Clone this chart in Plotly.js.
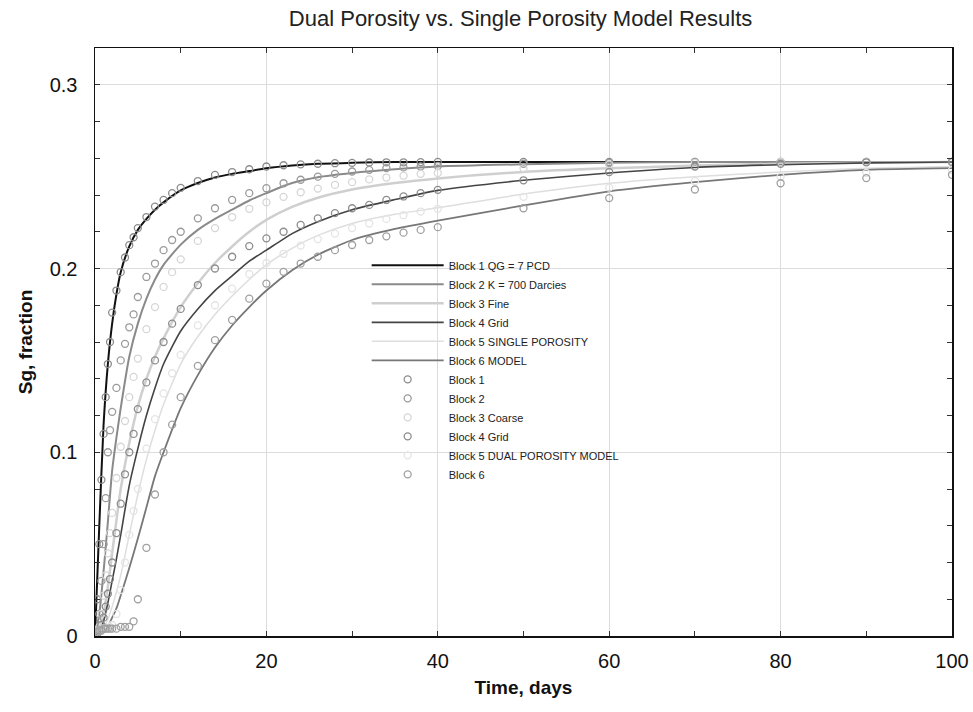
<!DOCTYPE html>
<html>
<head>
<meta charset="utf-8">
<script src="https://cdn.plot.ly/plotly-3.0.1.min.js"></script>
<style>html,body{margin:0;padding:0;background:#fff;}#chart{width:973px;height:712px;}</style>
</head>
<body>
<div id="chart"></div>
<script>
// Time axis for simulated (single porosity) lines, days
const lineT = [0, 0.5, 1, 1.5, 2, 2.5, 3, 4, 5, 6, 7, 8, 10, 12, 14, 16, 18, 20, 23, 26, 30, 35, 40, 50, 60, 70, 80, 90, 100];
const b1Line = [0, 0.06, 0.115, 0.148, 0.17, 0.186, 0.198, 0.212, 0.221, 0.227, 0.232, 0.236, 0.2425, 0.2465, 0.2495, 0.2515, 0.253, 0.2545, 0.256, 0.257, 0.2575, 0.258, 0.258, 0.258, 0.258, 0.258, 0.258, 0.258, 0.258];
const b2Line = [0, 0.012, 0.035, 0.062, 0.09, 0.108, 0.124, 0.152, 0.17, 0.1836, 0.194, 0.202, 0.213, 0.221, 0.227, 0.232, 0.237, 0.241, 0.2465, 0.2497, 0.252, 0.254, 0.2555, 0.2567, 0.2575, 0.258, 0.258, 0.258, 0.258];
const b3Line = [0, 0.004, 0.012, 0.027, 0.045, 0.063, 0.08, 0.105, 0.125, 0.14, 0.152, 0.162, 0.179, 0.192, 0.203, 0.212, 0.22, 0.2265, 0.2335, 0.2385, 0.243, 0.2465, 0.249, 0.2525, 0.2545, 0.256, 0.257, 0.2575, 0.258];
const b4Line = [0, 0.002, 0.008, 0.018, 0.03, 0.042, 0.055, 0.082, 0.102, 0.12, 0.135, 0.148, 0.166, 0.178, 0.188, 0.196, 0.204, 0.21, 0.219, 0.2255, 0.232, 0.2375, 0.2425, 0.248, 0.252, 0.255, 0.2565, 0.2575, 0.258];
const b5Line = [0, 0.001, 0.004, 0.009, 0.016, 0.024, 0.033, 0.055, 0.077, 0.096, 0.112, 0.126, 0.148, 0.163, 0.175, 0.185, 0.194, 0.202, 0.211, 0.218, 0.2245, 0.2295, 0.233, 0.2405, 0.2464, 0.25, 0.2525, 0.2545, 0.2555];
const b6Line = [0, 0.001, 0.002, 0.005, 0.01, 0.015, 0.022, 0.037, 0.053, 0.07, 0.087, 0.1, 0.124, 0.142, 0.157, 0.169, 0.179, 0.188, 0.199, 0.2075, 0.2155, 0.2215, 0.226, 0.2343, 0.242, 0.247, 0.251, 0.2537, 0.2546];

// Time axis for dual porosity model points, days
const ptT = [0, 0.25, 0.5, 0.75, 1, 1.25, 1.5, 1.75, 2, 2.5, 3, 3.5, 4, 4.5, 5, 6, 7, 8, 9, 10, 12, 14, 16, 18, 20, 22, 24, 26, 28, 30, 32, 34, 36, 38, 40, 50, 60, 70, 80, 90, 100];
const b1Pts = [0, 0.02, 0.05, 0.085, 0.11, 0.13, 0.148, 0.16, 0.176, 0.188, 0.198, 0.206, 0.2127, 0.217, 0.222, 0.228, 0.2337, 0.2373, 0.241, 0.2439, 0.2476, 0.2509, 0.2525, 0.254, 0.2555, 0.2562, 0.2567, 0.257, 0.2573, 0.2575, 0.2577, 0.2578, 0.2578, 0.2579, 0.258, 0.258, 0.258, 0.258, 0.258, 0.258, 0.258];
const b2Pts = [0, 0.003, 0.012, 0.03, 0.05, 0.075, 0.1, 0.112, 0.122, 0.135, 0.15, 0.159, 0.168, 0.175, 0.1845, 0.1954, 0.2027, 0.21, 0.2155, 0.22, 0.2273, 0.2328, 0.2373, 0.241, 0.2437, 0.2464, 0.2483, 0.25, 0.2515, 0.2528, 0.2537, 0.2546, 0.255, 0.2555, 0.2558, 0.257, 0.2575, 0.258, 0.258, 0.258, 0.258];
const b3Pts = [0, 0.001, 0.005, 0.012, 0.022, 0.033, 0.045, 0.056, 0.067, 0.086, 0.103, 0.117, 0.13, 0.141, 0.151, 0.167, 0.179, 0.19, 0.198, 0.205, 0.215, 0.222, 0.228, 0.2325, 0.236, 0.239, 0.2415, 0.2435, 0.2455, 0.247, 0.2485, 0.2495, 0.2505, 0.2515, 0.252, 0.2545, 0.2565, 0.2575, 0.258, 0.258, 0.258];
const b4Pts = [0, 0.001, 0.003, 0.006, 0.01, 0.016, 0.023, 0.031, 0.04, 0.056, 0.072, 0.088, 0.1, 0.11, 0.1235, 0.138, 0.15, 0.16, 0.17, 0.178, 0.191, 0.2, 0.2064, 0.2122, 0.2164, 0.22, 0.2237, 0.2273, 0.2301, 0.2328, 0.2346, 0.2373, 0.2392, 0.241, 0.2428, 0.248, 0.2525, 0.2555, 0.257, 0.2578, 0.258];
const b5Pts = [0, 0.002, 0.003, 0.003, 0.004, 0.004, 0.004, 0.005, 0.006, 0.012, 0.025, 0.04, 0.055, 0.068, 0.08, 0.102, 0.118, 0.132, 0.143, 0.153, 0.169, 0.18, 0.189, 0.197, 0.203, 0.208, 0.2125, 0.216, 0.219, 0.222, 0.2245, 0.227, 0.229, 0.231, 0.2325, 0.239, 0.244, 0.2475, 0.25, 0.252, 0.2535];
const b6Pts = [0, 0.002, 0.003, 0.003, 0.004, 0.004, 0.004, 0.004, 0.004, 0.004, 0.005, 0.005, 0.005, 0.008, 0.02, 0.048, 0.077, 0.1, 0.115, 0.13, 0.147, 0.161, 0.172, 0.1836, 0.1918, 0.1982, 0.2027, 0.2064, 0.21, 0.2128, 0.2155, 0.2175, 0.2195, 0.221, 0.2225, 0.2328, 0.2383, 0.243, 0.2464, 0.2492, 0.251];

const lineNames = ['Block 1 QG = 7 PCD', 'Block 2 K = 700 Darcies', 'Block 3 Fine', 'Block 4 Grid', 'Block 5 SINGLE POROSITY', 'Block 6 MODEL'];
const ptNames = ['Block 1', 'Block 2', 'Block 3 Coarse', 'Block 4 Grid', 'Block 5 DUAL POROSITY MODEL', 'Block 6'];

const lineSeries = [b1Line, b2Line, b3Line, b4Line, b5Line, b6Line];
const ptSeries = [b1Pts, b2Pts, b3Pts, b4Pts, b5Pts, b6Pts];
const lineColors = ['#111111', '#8a8a8a', '#cfcfcf', '#444444', '#dedede', '#777777'];
const lineWidths = [2, 2, 2.5, 1.6, 1.5, 1.8];
const ptColors = ['#8c8c8c', '#9a9a9a', '#d6d6d6', '#8c8c8c', '#e4e4e4', '#a0a0a0'];

const traces = [];
lineSeries.forEach((s, i) => traces.push({
  x: lineT, y: s, type: 'scatter', mode: 'lines', name: lineNames[i],
  line: {color: lineColors[i], width: lineWidths[i], shape: 'spline', smoothing: 0.6}
}));
ptSeries.forEach((s, i) => traces.push({
  x: ptT, y: s, type: 'scatter', mode: 'markers', name: ptNames[i],
  marker: {symbol: 'circle-open', size: 7, color: ptColors[i], line: {width: 1.3, color: ptColors[i]}}
}));

const fontFam = 'Liberation Sans, Arial, sans-serif';
const layout = {
  width: 973, height: 712,
  margin: {l: 95, r: 21, t: 48, b: 76},
  paper_bgcolor: '#fff', plot_bgcolor: '#fff',
  font: {family: fontFam, color: '#111'},
  title: {text: 'Dual Porosity vs. Single Porosity Model Results', x: 0.535, xanchor: 'center', y: 0.975, yanchor: 'middle', font: {size: 22, color: '#222', family: fontFam}},
  showlegend: true,
  legend: {x: 0.317, y: 0.655, xanchor: 'left', yanchor: 'top', bgcolor: 'rgba(0,0,0,0)', borderwidth: 0, font: {size: 11, color: '#222'}, tracegroupgap: 0, itemwidth: 72},
  xaxis: {
    range: [0, 100], dtick: 20, tick0: 0,
    showline: true, linecolor: '#111', linewidth: 1.5, mirror: 'allticks',
    ticks: 'inside', ticklen: 5, tickcolor: '#333',
    showgrid: true, gridcolor: '#dcdcdc', gridwidth: 1,
    zeroline: false,
    minor: {dtick: 10, ticks: 'inside', ticklen: 5, tickcolor: '#333', showgrid: false},
    tickfont: {size: 20, color: '#111'}, ticklabelstandoff: 6,
    title: {text: '<b>Time, days</b>', font: {size: 19, color: '#111'}, standoff: 10}
  },
  yaxis: {
    range: [0, 0.32], dtick: 0.1, tick0: 0,
    showline: true, linecolor: '#111', linewidth: 1.5, mirror: 'allticks',
    ticks: 'inside', ticklen: 5, tickcolor: '#333',
    showgrid: true, gridcolor: '#dcdcdc', gridwidth: 1,
    zeroline: false,
    minor: {dtick: 0.02, ticks: 'inside', ticklen: 5, tickcolor: '#333', showgrid: false},
    tickfont: {size: 20, color: '#111'}, ticklabelstandoff: 12,
    title: {text: '<b>Sg, fraction</b>', font: {size: 19, color: '#111'}, standoff: 12}
  }
};

Plotly.newPlot('chart', traces, layout, {displayModeBar: false, staticPlot: true});
</script>
</body>
</html>
